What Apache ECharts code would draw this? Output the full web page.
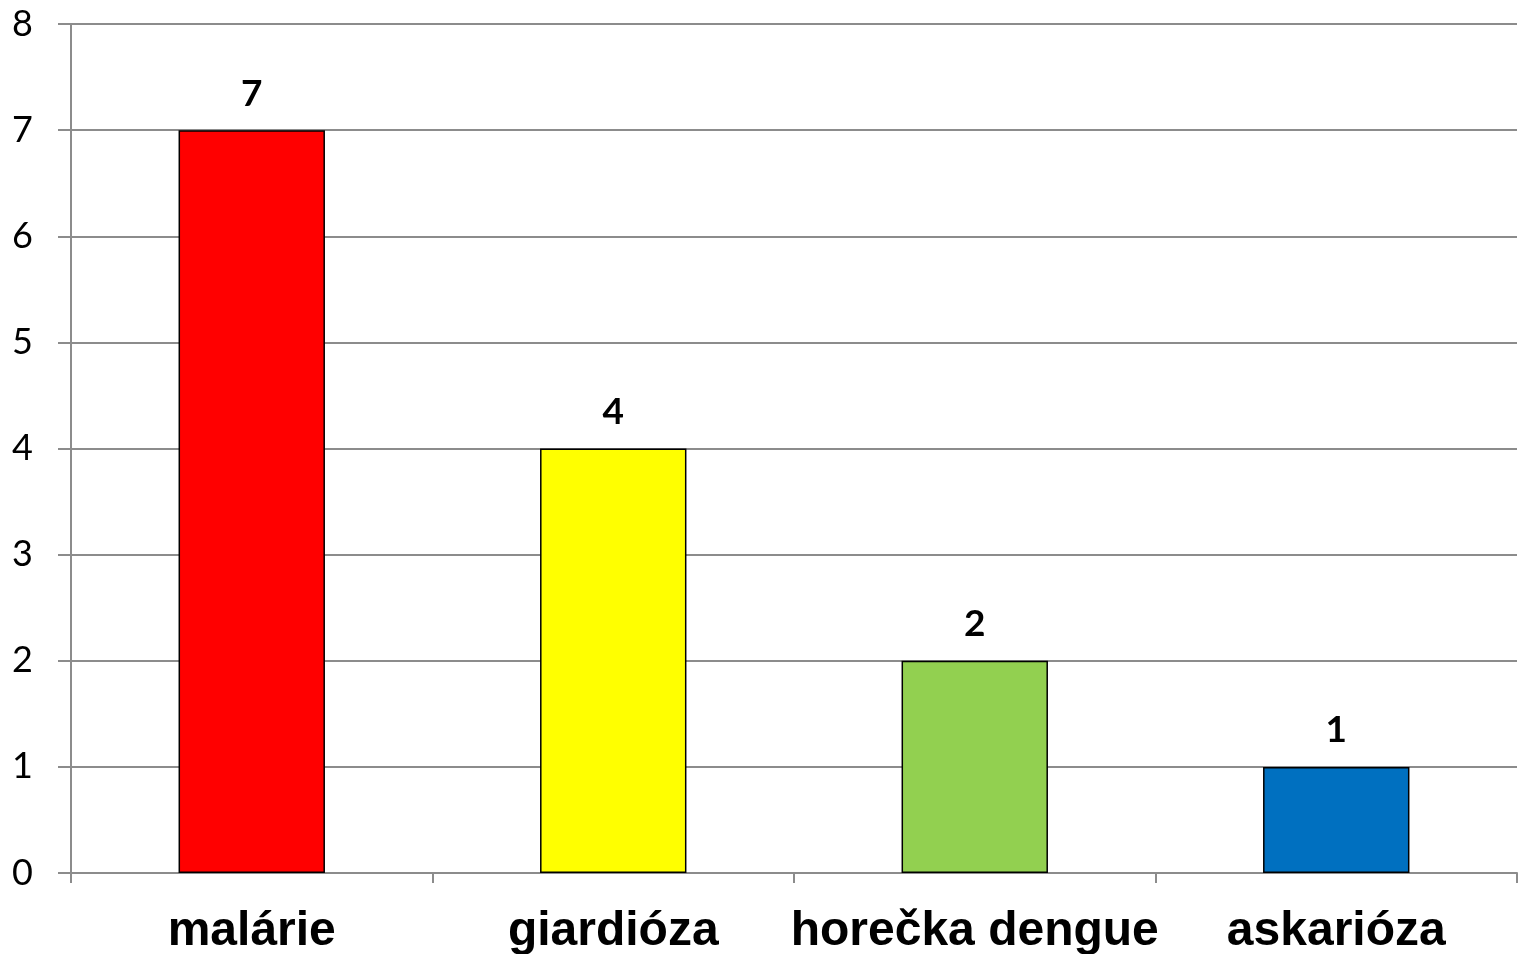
<!DOCTYPE html>
<html><head><meta charset="utf-8">
<script src="https://cdn.jsdelivr.net/npm/echarts@6/dist/echarts.min.js"></script>
<style>html,body{margin:0;padding:0;background:#fff}#c{width:1519px;height:954px}</style>
</head><body><div id="c"></div>
<script>
const categories = ['malárie', 'giardióza', 'horečka dengue', 'askarióza'];
const values = [7, 4, 2, 1];
const colors = ['#FF0000', '#FFFF00', '#92D050', '#0070C0'];
const yTicks = [0, 1, 2, 3, 4, 5, 6, 7, 8];

const chart = echarts.init(document.getElementById('c'), null, {renderer: 'canvas'});
chart.setOption({
  animation: false,
  backgroundColor: '#ffffff',
  grid: {left: 71, right: 2, top: 24, bottom: 81, containLabel: false, outerBoundsMode: 'none'},
  xAxis: {
    type: 'category',
    data: categories,
    axisLine: {show: true, lineStyle: {color: '#8c8c8c', width: 2}},
    axisTick: {show: true, interval: 0, length: 10, alignWithLabel: false, lineStyle: {color: '#8c8c8c', width: 2}},
    axisLabel: {
      interval: 0, hideOverlap: false,
      margin: 35, fontFamily: 'Liberation Sans, Arial', fontWeight: 'bold', fontSize: 48, color: '#000'
    },
    splitLine: {show: false}
  },
  yAxis: {
    type: 'value',
    min: yTicks[0], max: yTicks[yTicks.length - 1], interval: 1,
    axisLine: {show: true, lineStyle: {color: '#8c8c8c', width: 2}},
    axisTick: {show: true, length: 13, lineStyle: {color: '#8c8c8c', width: 2}},
    axisLabel: {margin: 38, fontFamily: 'Lato, Open Sans', fontSize: 36, color: '#000'},
    splitLine: {show: true, lineStyle: {color: '#8c8c8c', width: 2}}
  },
  series: [{
    type: 'bar',
    barWidth: '40.5%',
    data: values.map((v, i) => ({value: v, itemStyle: {color: colors[i]}})),
    itemStyle: {borderColor: '#000', borderWidth: 1.5},
    label: {
      show: true, position: 'top', distance: 18,
      fontFamily: 'Lato, Open Sans', fontWeight: 'bold', fontSize: 37, color: '#000'
    }
  }]
});
</script></body></html>
